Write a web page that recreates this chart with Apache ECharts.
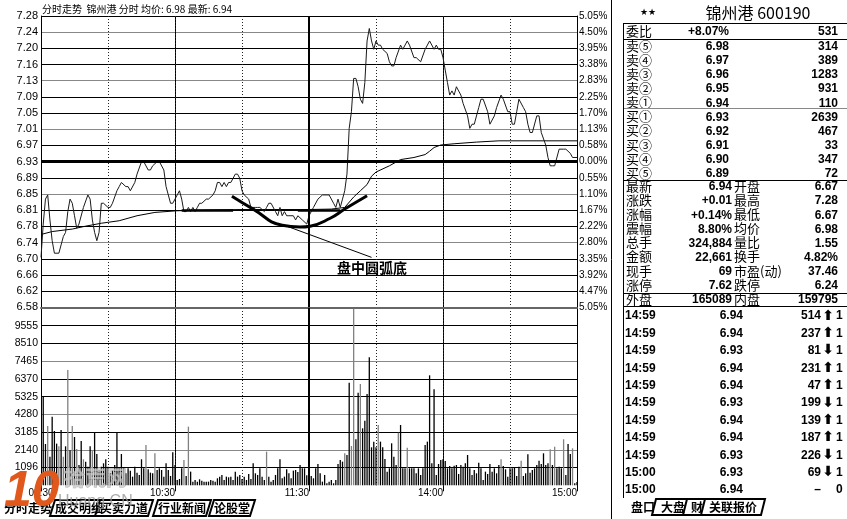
<!DOCTYPE html>
<html><head><meta charset="utf-8">
<script src="https://cdn.jsdelivr.net/npm/echarts@6/dist/echarts.min.js"></script>
<style>html,body{margin:0;padding:0;background:#fff}#c{width:847px;height:519px}</style>
</head><body><div id="c"></div>
<script>
// ---------------- data ----------------
const prevClose = 6.93;
const priceTicks = ['7.28','7.24','7.20','7.16','7.13','7.09','7.05','7.01','6.97','6.93','6.89','6.85','6.81','6.78','6.74','6.70','6.66','6.62','6.58'];
const pctTicks = ['5.05%','4.50%','3.95%','3.38%','2.83%','2.25%','1.70%','1.13%','0.58%','0.00%','0.55%','1.10%','1.67%','2.22%','2.80%','3.35%','3.92%','4.47%','5.05%'];
const volTicks = ['','1096','2140','3185','4280','5325','6370','7465','8510','9555',''];
const timeLabels = {0:'09:30',60:'10:30',120:'11:30',180:'14:00',240:'15:00'};
const priceMin = 6.58, priceMax = 7.28, volMax = 10640;

// minute index (0..240, lunch removed), price
const pricePts = [[0,6.70],[1,6.78],[2,6.84],[3,6.85],[4,6.79],[5,6.74],[6,6.71],[8,6.71],[9,6.73],[10,6.75],[11,6.76],[12,6.81],[13,6.84],[14,6.83],[15,6.80],[16,6.77],[17,6.78],[19,6.82],[21,6.85],[22,6.84],[23,6.79],[24,6.76],[25,6.74],[26,6.76],[27,6.83],[28,6.83],[30,6.82],[31,6.82],[32,6.83],[34,6.86],[35,6.87],[36,6.88],[38,6.87],[39,6.87],[40,6.86],[42,6.88],[43,6.90],[45,6.93],[46,6.93],[48,6.91],[49,6.91],[50,6.92],[52,6.93],[53,6.93],[55,6.91],[56,6.87],[58,6.83],[59,6.83],[61,6.85],[62,6.86],[63,6.84],[64,6.81],[65,6.81],[66,6.82],[67,6.81],[68,6.82],[69,6.81],[70,6.82],[71,6.83],[72,6.83],[74,6.84],[75,6.84],[77,6.85],[78,6.86],[79,6.88],[80,6.88],[81,6.87],[82,6.88],[83,6.87],[84,6.88],[85,6.88],[86,6.89],[87,6.90],[88,6.90],[89,6.89],[90,6.86],[91,6.85],[93,6.84],[94,6.82],[96,6.82],[97,6.82],[98,6.82],[100,6.81],[101,6.82],[102,6.83],[103,6.83],[105,6.81],[106,6.80],[107,6.82],[108,6.80],[109,6.81],[110,6.80],[111,6.80],[113,6.80],[114,6.79],[115,6.80],[117,6.79],[119,6.78],
[120,6.80],[121,6.81],[122,6.82],[124,6.84],[126,6.85],[128,6.85],[129,6.85],[131,6.83],[132,6.82],[133,6.84],[134,6.82],[135,6.84],[136,6.86],[137,6.90],[138,7.01],[139,7.05],[140,7.13],[141,7.13],[142,7.11],[143,7.08],[144,7.07],[145,7.12],[146,7.22],[147,7.25],[148,7.22],[149,7.20],[150,7.22],[151,7.21],[152,7.21],[153,7.20],[155,7.19],[156,7.17],[157,7.16],[158,7.16],[159,7.18],[161,7.21],[162,7.20],[164,7.22],[165,7.21],[167,7.18],[168,7.18],[170,7.17],[172,7.20],[174,7.22],[176,7.20],[177,7.21],[178,7.20],[179,7.20],[180,7.18],[181,7.15],[182,7.12],[183,7.09],[184,7.10],[185,7.09],[186,7.11],[188,7.09],[189,7.07],[191,7.04],[192,7.01],[193,7.02],[194,7.02],[196,7.06],[197,7.08],[198,7.08],[200,7.05],[201,7.02],[203,7.04],[204,7.06],[206,7.09],[207,7.08],[209,7.05],[210,7.05],[211,7.02],[212,7.02],[213,7.05],[214,7.08],[216,7.06],[217,7.05],[218,7.02],[219,7.00],[220,7.00],[222,7.04],[223,7.04],[224,7.00],[226,6.97],[227,6.94],[228,6.92],[229,6.92],[230,6.92],[232,6.96],[234,6.96],[235,6.96],[237,6.95],[238,6.94],[240,6.94]];

const avgPts = [[0,6.755],[5,6.762],[14,6.768],[20,6.775],[27,6.782],[35,6.788],[43,6.80],[51,6.808],[61,6.812],[75,6.814],[90,6.815],[120,6.815],[130,6.816],[136,6.82],[140,6.845],[143,6.86],[146,6.875],[148,6.895],[150,6.905],[156,6.92],[161,6.935],[167,6.94],[172,6.947],[174,6.955],[176,6.964],[179,6.97],[185,6.973],[195,6.977],[205,6.98],[240,6.98]];

const volumes = [0,5300,2480,3560,1720,4120,3260,2500,2340,3320,1720,2340,6920,2100,3560,2900,2180,1220,2660,1560,1420,1120,2340,2100,3160,1880,920,1120,1320,1560,1120,
720,920,1220,3160,1020,1880,1020,720,1020,880,520,1120,760,620,1560,1020,2420,960,760,720,1920,920,1020,920,520,1320,920,560,1980,1220,
320,380,1020,1520,560,3520,820,220,320,220,360,280,220,220,220,320,280,220,420,520,620,320,520,480,520,320,820,520,620,380,
520,320,680,380,1320,720,620,1020,520,320,2020,520,220,320,620,1020,1560,420,520,960,720,420,880,920,800,1220,1020,1020,600,0,
560,420,1020,1280,720,220,620,120,220,320,120,320,1280,1520,1420,1920,1820,6160,2360,10600,2760,5560,6080,3420,3880,5480,7680,2280,2620,2280,
3620,2620,2280,1580,820,1020,2520,1720,1220,3160,3620,1020,1020,2260,1020,1020,1020,720,1020,620,1020,2420,2620,6600,1320,5760,620,1280,1520,1560,
1460,1020,1160,1020,1180,1220,680,1220,1120,1320,1820,1020,620,920,720,1360,1020,320,820,680,1280,820,1020,720,1220,1560,1160,960,520,1020,
1020,1080,560,1120,1480,560,720,1860,760,920,1020,1220,1480,1280,1920,1220,1320,2160,1220,2320,1020,1120,1020,2760,620,2480,1880,2220,120,200];
const downBars = [3,8,10,12,14,16,19,23,47,51,64,66,101,136,139,140,143,151,160,164,206,215,228,230,234,238];

// annotation ("盘中圆弧底") in data units
const arcPts = [[85.5,6.847],[95,6.816],[108,6.777],[116,6.773],[120.5,6.775],[129.5,6.794],[136,6.816],[146,6.848]];
const neckSegs = [[[63,6.813],[86,6.813]],[[115,6.813],[134,6.813]]];
const pointerSeg = [[108,6.779],[148,6.70]];
const annoText = '盘中圆弧底';
const headerText = '分时走势  锦州港 分时 均价: 6.98 最新: 6.94';

// quote panel
const stockTitle = '锦州港 600190';
const bookRows = [['委比','+8.07%','531'],['卖⑤','6.98','314'],['卖④','6.97','389'],['卖③','6.96','1283'],['卖②','6.95','931'],['卖①','6.94','110'],['买①','6.93','2639'],['买②','6.92','467'],['买③','6.91','33'],['买④','6.90','347'],['买⑤','6.89','72']];
const statRows = [['最新','6.94','开盘','6.67'],['涨跌','+0.01','最高','7.28'],['涨幅','+0.14%','最低','6.67'],['震幅','8.80%','均价','6.98'],['总手','324,884','量比','1.55'],['金额','22,661','换手','4.82%'],['现手','69','市盈(动)','37.46'],['涨停','7.62','跌停','6.24'],['外盘','165089','内盘','159795']];
const tradeRows = [['14:59','6.94','514','⬆','1'],['14:59','6.94','237','⬆','1'],['14:59','6.93','81','⬇','1'],['14:59','6.94','231','⬆','1'],['14:59','6.94','47','⬆','1'],['14:59','6.93','199','⬇','1'],['14:59','6.94','139','⬆','1'],['14:59','6.94','187','⬆','1'],['14:59','6.93','226','⬇','1'],['15:00','6.93','69','⬇','1'],['15:00','6.94','–','','0']];
const leftTabs = ['分时走势','成交明细','买卖力道','行业新闻','论股堂'];
const rightTabs = ['盘口','大盘','财','关联报价'];

// ---------------- chart ----------------
const chart = echarts.init(document.getElementById('c'), null, {renderer:'canvas'});
const NUM = '"Liberation Sans", Arial, sans-serif';
const CJK = '"Noto Sans CJK SC", sans-serif';

const G = [];
function txt(x,y,t,font,align,fill){G.push({type:'text',x:x,y:y,silent:true,z:100,style:{text:t,font:font,fill:fill||'#000',align:align||'left',verticalAlign:'middle'}});}
function ln(x1,y1,x2,y2,c,w){G.push({type:'line',silent:true,z:100,shape:{x1:x1,y1:y1,x2:x2,y2:y2},style:{stroke:c||'#000',lineWidth:w||1}});}

// header
txt(42,9,headerText,'10px '+CJK,'left');
// annotation label
txt(372,268,annoText,'bold 14px '+CJK,'center');

// quote panel
ln(611.5,0,611.5,519,'#000',1);
txt(648,13,'★★','bold 9px "DejaVu Sans"','center');
txt(758,13,stockTitle,'16px '+CJK,'center');
ln(624,23.5,847,23.5,'#000',1);
ln(623.5,23,623.5,498,'#000',1);
bookRows.forEach((r,k)=>{const y=32+k*14.15+(k>0?0.5:0);
  txt(626,y-1,r[0],'13px '+CJK,'left');
  txt(729,y,r[1],'bold 12px '+NUM,'right');
  txt(838,y,r[2],'bold 12px '+NUM,'right');});
ln(624,39.5,847,39.5,'#000',1);
ln(624,108.5,847,108.5,'#888',1);
ln(624,180.5,847,180.5,'#000',1);
statRows.forEach((r,k)=>{const y=187+k*14.1;
  txt(626,y-1,r[0],'13px '+CJK,'left');
  txt(732,y,r[1],'bold 12px '+NUM,'right');
  txt(734,y-1,r[2],'13px '+CJK,'left');
  txt(838,y,r[3],'bold 12px '+NUM,'right');});
ln(624,293.5,847,293.5,'#000',1);
ln(624,306.5,847,306.5,'#000',1);
tradeRows.forEach((r,k)=>{const y=316+k*17.4;
  txt(625,y,r[0],'bold 12px '+NUM,'left');
  txt(743,y,r[1],'bold 12px '+NUM,'right');
  txt(821,y,r[2],'bold 12px '+NUM,'right');
  if(r[3]) txt(828,y,r[3],'bold 14px "DejaVu Sans"','center');
  txt(836,y,r[4],'bold 12px '+NUM,'left');});
// right tabs
txt(643,507,rightTabs[0],'bold 12px '+CJK,'center');
[[673,rightTabs[1],34],[697,rightTabs[2],20],[733,rightTabs[3],56]].forEach(t=>{
  const w=t[2];const x=t[0];
  G.push({type:'polygon',silent:true,z:99,shape:{points:[[x-w/2-4,515],[x-w/2,499],[x+w/2+4,499],[x+w/2,515]]},style:{fill:'#fff',stroke:'#000',lineWidth:2}});
  txt(x,507,t[1],'bold 12px '+CJK,'center');});
// left tabs
txt(28,508,leftTabs[0],'bold 12px '+CJK,'center');
[[79,leftTabs[1]],[124,leftTabs[2]],[182,leftTabs[3]],[232,leftTabs[4]]].forEach((t,k)=>{
  const x=t[0], w=(k===3?36:48);
  G.push({type:'polygon',silent:true,z:99,shape:{points:[[x-w/2-5,516],[x-w/2,500],[x+w/2+5,500],[x+w/2,516]]},style:{fill:'#fff',stroke:'#000',lineWidth:2}});
  txt(x,508,t[1],'bold 12px '+CJK,'center');});
// watermark
G.push({type:'text',x:4,y:492,z:120,silent:true,style:{text:'10',font:'italic bold 50px "Liberation Sans"',fill:'#e0581c',verticalAlign:'middle',align:'left'}});
G.push({type:'text',x:64,y:477,z:120,silent:true,style:{text:'拾荒网',font:'bold 21px '+CJK,fill:'rgba(200,200,200,0.75)',stroke:'rgba(120,120,120,0.6)',lineWidth:0.6,verticalAlign:'middle',align:'left'}});
G.push({type:'text',x:58,y:502,z:120,silent:true,style:{text:'Huang.CN',font:'16px "Liberation Sans"',fill:'rgba(150,150,150,0.8)',verticalAlign:'middle',align:'left'}});

const priceSplitColors = ['#000','#000','#000','#000','#888','#000','#000','#888','#000','#000','#000','#888','#000','#000','#888','#000','#000','#888','#000'];
const volSplitColors = ['rgba(0,0,0,0)','#000','#888','#000','#888','#000','#000','#888','#000','#000','rgba(0,0,0,0)'];

const volData = volumes.map((v,i)=>({value:[i,v],itemStyle:{color: downBars.indexOf(i)>=0 ? '#808080' : '#000'}}));

const gridW = 536;
const option = {
  animation:false,
  backgroundColor:'#fff',
  grid:[{left:41,top:16,width:gridW,height:291.3},{left:41,top:308,width:gridW,height:177.3}],
  xAxis:[
    {gridIndex:0,type:'value',min:0,max:240,interval:60,axisLine:{show:true,onZero:false,lineStyle:{color:'#666',width:2}},axisTick:{show:false},axisLabel:{show:false},splitLine:{show:true,lineStyle:{color:'#000',width:1}}},
    {gridIndex:0,type:'value',min:0,max:240,interval:30,axisLine:{show:false},axisTick:{show:false},axisLabel:{show:false},splitLine:{show:true,lineStyle:{color:'#222',width:1,type:[1,2]}}},
    {gridIndex:1,type:'value',min:0,max:240,interval:60,axisLine:{show:false,onZero:false},axisTick:{show:true,length:6,lineStyle:{color:'#000'}},
      axisLabel:{show:true,formatter:v=>timeLabels[v]||'',align:'right',alignMinLabel:'center',margin:3,fontSize:10,color:'#000',fontFamily:'Liberation Sans'},
      splitLine:{show:true,lineStyle:{color:'#000',width:1}}},
    {gridIndex:1,type:'value',min:0,max:240,interval:30,axisLine:{show:false},axisTick:{show:false},axisLabel:{show:false},splitLine:{show:true,lineStyle:{color:'#222',width:1,type:[1,2]}}}
  ],
  yAxis:[
    {gridIndex:0,type:'value',min:priceMin,max:priceMax,show:false},
    {gridIndex:0,type:'value',min:0,max:18,interval:1,position:'left',axisLine:{show:true,lineStyle:{color:'#000'}},axisTick:{show:false},
      axisLabel:{formatter:v=>priceTicks[18-v],margin:3,fontSize:11,color:'#000',fontFamily:'Liberation Sans'},
      splitLine:{show:true,lineStyle:{color:priceSplitColors,width:1}}},
    {gridIndex:0,type:'value',min:0,max:18,interval:1,position:'right',axisLine:{show:true,lineStyle:{color:'#000'}},axisTick:{show:false},
      axisLabel:{formatter:v=>pctTicks[18-v],margin:2,fontSize:10,color:'#000',fontFamily:'Liberation Sans'},splitLine:{show:false}},
    {gridIndex:1,type:'value',min:0,max:volMax,show:false},
    {gridIndex:1,type:'value',min:0,max:10,interval:1,position:'left',axisLine:{show:true,lineStyle:{color:'#000'}},axisTick:{show:false},
      axisLabel:{formatter:v=>volTicks[v],margin:3,fontSize:10.5,color:'#000',fontFamily:'Liberation Sans'},
      splitLine:{show:true,lineStyle:{color:volSplitColors,width:1}}},
    {gridIndex:1,type:'value',min:0,max:10,interval:1,position:'right',axisLine:{show:true,lineStyle:{color:'#000'}},axisTick:{show:false},axisLabel:{show:false},splitLine:{show:false}}
  ],
  series:[
    {type:'line',name:'avg',xAxisIndex:0,yAxisIndex:0,data:avgPts,showSymbol:false,symbol:'none',lineStyle:{color:'#000',width:1},z:3},
    {type:'line',name:'price',xAxisIndex:0,yAxisIndex:0,data:pricePts,showSymbol:false,symbol:'none',lineStyle:{color:'#1a1a1a',width:1},z:4,
      markLine:{silent:true,symbol:['none','none'],label:{show:false},
        data:[
          {yAxis:prevClose,lineStyle:{color:'#000',width:3,type:'solid'}},
          {xAxis:120,lineStyle:{color:'#000',width:2,type:'solid'}},
          [{coord:neckSegs[0][0],lineStyle:{color:'#000',width:2.5,type:'solid'}},{coord:neckSegs[0][1]}],
          [{coord:neckSegs[1][0],lineStyle:{color:'#000',width:2.5,type:'solid'}},{coord:neckSegs[1][1]}],
          [{coord:pointerSeg[0],lineStyle:{color:'#000',width:1,type:'solid'}},{coord:pointerSeg[1]}]
        ]}},
    {type:'line',name:'arc',xAxisIndex:0,yAxisIndex:0,data:arcPts,smooth:0.5,showSymbol:false,symbol:'none',lineStyle:{color:'#000',width:3},z:5},
    {type:'bar',name:'vol',xAxisIndex:2,yAxisIndex:3,data:volData,barWidth:1.3,
      markLine:{silent:true,symbol:['none','none'],label:{show:false},data:[{xAxis:120,lineStyle:{color:'#000',width:2,type:'solid'}}]}}
  ],
  graphic:G
};
chart.setOption(option);
</script></body></html>
